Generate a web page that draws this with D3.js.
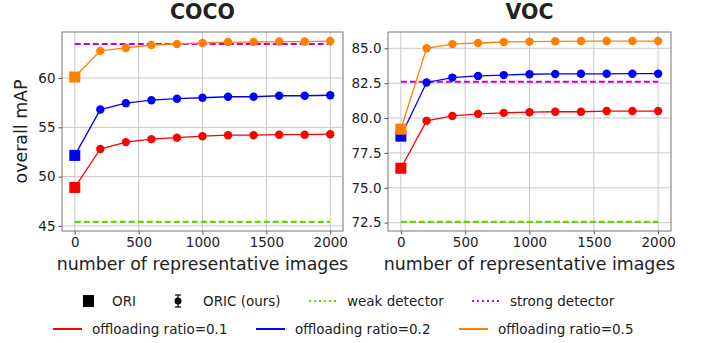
<!DOCTYPE html>
<html>
<head>
<meta charset="utf-8">
<script src="https://cdn.jsdelivr.net/npm/d3@7"></script>
<style>
  body { margin: 0; background: #fff; }
  text { font-family: "DejaVu Sans", sans-serif; fill: #222; }
</style>
</head>
<body>
<div id="chart"></div>
<script>
// x positions (number of representative images)
var imageCounts = [0, 200, 400, 600, 800, 1000, 1200, 1400, 1600, 1800, 2000];
var xTicks = [0, 500, 1000, 1500, 2000];

var ratios = ["0.1", "0.2", "0.5"];
var ratioColors = ["#ff0000", "#0000ff", "#ff8000"];

// COCO
var cocoOri = [48.9, 52.15, 60.1];
var cocoOric01 = [52.8, 53.5, 53.8, 53.95, 54.1, 54.2, 54.2, 54.25, 54.25, 54.3];
var cocoOric02 = [56.8, 57.45, 57.75, 57.9, 58.0, 58.1, 58.1, 58.2, 58.2, 58.25];
var cocoOric05 = [62.75, 63.05, 63.35, 63.45, 63.55, 63.65, 63.65, 63.7, 63.7, 63.75];
var cocoWeak = 45.4, cocoStrong = 63.45;
var cocoTicks = [45, 50, 55, 60];

// VOC
var vocOri = [76.4, 78.7, 79.2];
var vocOric01 = [79.8, 80.15, 80.3, 80.37, 80.42, 80.45, 80.45, 80.5, 80.5, 80.5];
var vocOric02 = [82.55, 82.9, 83.02, 83.08, 83.14, 83.16, 83.17, 83.17, 83.18, 83.18];
var vocOric05 = [85.0, 85.3, 85.38, 85.45, 85.48, 85.5, 85.52, 85.52, 85.52, 85.52];
var vocWeak = 72.55, vocStrong = 82.6;
var vocTicks = [72.5, 75.0, 77.5, 80.0, 82.5, 85.0];

var weakColor = "#66d400", strongColor = "#cc00cc";

var svg = d3.select("#chart").append("svg")
    .attr("width", 704)
    .attr("height", 343);

var panelTop = 32, panelBottom = 231;

function drawPanel(opts) {
    var ori = opts.ori, oric = opts.oric;
    var allVals = ori.concat(oric[0], oric[1], oric[2], [opts.weak, opts.strong]);
    var ext = d3.extent(allVals), pad = (ext[1] - ext[0]) * 0.05;

    var x = d3.scaleLinear().domain([-100, 2100]).range([opts.left, opts.right]);
    var y = d3.scaleLinear().domain([ext[0] - pad, ext[1] + pad]).range([panelBottom, panelTop]);

    var g = svg.append("g");

    // grid
    g.selectAll("line.gx").data(xTicks).enter().append("line")
        .attr("x1", d => x(d)).attr("x2", d => x(d))
        .attr("y1", panelTop).attr("y2", panelBottom)
        .attr("stroke", "#c8c8c8").attr("stroke-width", 1);
    g.selectAll("line.gy").data(opts.ticks).enter().append("line")
        .attr("y1", d => y(d)).attr("y2", d => y(d))
        .attr("x1", opts.left).attr("x2", opts.right)
        .attr("stroke", "#c8c8c8").attr("stroke-width", 1);

    // axes
    var xAxis = g.append("g")
        .attr("transform", "translate(0," + panelBottom + ")")
        .call(d3.axisBottom(x).tickValues(xTicks).tickSize(3.5).tickPadding(3)
            .tickFormat(d3.format("d")));
    var yAxis = g.append("g")
        .attr("transform", "translate(" + opts.left + ",0)")
        .call(d3.axisLeft(y).tickValues(opts.ticks).tickSize(3.5).tickPadding(3)
            .tickFormat(opts.fmt));
    [xAxis, yAxis].forEach(function(a) {
        a.select(".domain").remove();
        a.selectAll(".tick line").attr("stroke", "#555");
        a.selectAll(".tick text").style("font-size", "13.5px")
            .style("font-family", "DejaVu Sans").attr("fill", "#222");
    });

    g.append("rect")
        .attr("x", opts.left).attr("y", panelTop)
        .attr("width", opts.right - opts.left).attr("height", panelBottom - panelTop)
        .attr("fill", "none").attr("stroke", "#777").attr("stroke-width", 1);

    // detector reference lines
    [[opts.weak, weakColor], [opts.strong, strongColor]].forEach(function(r) {
        g.append("line")
            .attr("x1", x(0)).attr("x2", x(2000))
            .attr("y1", y(r[0])).attr("y2", y(r[0]))
            .attr("stroke", r[1]).attr("stroke-width", 2.2)
            .attr("stroke-dasharray", "6,3");
    });

    // series
    var line = d3.line().x(d => x(d[0])).y(d => y(d[1]));
    ratios.forEach(function(r, i) {
        var pts = [[0, ori[i]]].concat(oric[i].map((v, j) => [imageCounts[j + 1], v]));
        g.append("path").datum(pts)
            .attr("d", line)
            .attr("fill", "none")
            .attr("stroke", ratioColors[i])
            .attr("stroke-width", 1.3);
        g.selectAll(null).data(pts.slice(1)).enter().append("circle")
            .attr("cx", d => x(d[0])).attr("cy", d => y(d[1]))
            .attr("r", 4.2)
            .attr("fill", ratioColors[i]);
        g.append("rect")
            .attr("x", x(0) - 5.5).attr("y", y(ori[i]) - 5.5)
            .attr("width", 11).attr("height", 11)
            .attr("fill", ratioColors[i]);
    });

    // title
    g.append("text")
        .attr("x", (opts.left + opts.right) / 2).attr("y", 19)
        .attr("text-anchor", "middle")
        .style("font-size", "20.5px").style("font-weight", "bold")
        .attr("fill", "#333")
        .text(opts.title);

    g.append("text")
        .attr("x", (opts.left + opts.right) / 2).attr("y", 270)
        .attr("text-anchor", "middle")
        .style("font-size", "17.4px")
        .attr("fill", "#333")
        .text("number of representative images");
}

drawPanel({
    title: "COCO", left: 62, right: 343,
    ori: cocoOri, oric: [cocoOric01, cocoOric02, cocoOric05],
    weak: cocoWeak, strong: cocoStrong, ticks: cocoTicks, fmt: d3.format("d")
});
drawPanel({
    title: "VOC", left: 388, right: 671,
    ori: vocOri, oric: [vocOric01, vocOric02, vocOric05],
    weak: vocWeak, strong: vocStrong, ticks: vocTicks, fmt: d3.format(".1f")
});

svg.append("text")
    .attr("transform", "translate(27,131.5) rotate(-90)")
    .attr("text-anchor", "middle")
    .style("font-size", "17.4px")
    .attr("fill", "#333")
    .text("overall mAP");

// legend
var leg = svg.append("g").style("font-size", "13.5px");
var row1 = 301, row2 = 329;

leg.append("rect").attr("x", 83).attr("y", row1 - 6).attr("width", 11).attr("height", 12).attr("fill", "#000");
leg.append("text").attr("x", 112).attr("y", row1 + 5).text("ORI");

leg.append("line").attr("x1", 178).attr("x2", 178).attr("y1", row1 - 6).attr("y2", row1 + 6)
    .attr("stroke", "#000").attr("stroke-width", 1.2);
[row1 - 6, row1 + 6].forEach(function(yy) {
    leg.append("line").attr("x1", 175).attr("x2", 181).attr("y1", yy).attr("y2", yy)
        .attr("stroke", "#000").attr("stroke-width", 1.2);
});
leg.append("circle").attr("cx", 178).attr("cy", row1).attr("r", 3.5).attr("fill", "#000");
leg.append("text").attr("x", 203).attr("y", row1 + 5).text("ORIC (ours)");

[[309, 347, weakColor, "weak detector"], [472, 510, strongColor, "strong detector"]].forEach(function(d) {
    leg.append("line").attr("x1", d[0]).attr("x2", d[0] + 27).attr("y1", row1).attr("y2", row1)
        .attr("stroke", d[2]).attr("stroke-width", 2).attr("stroke-dasharray", "2,3");
    leg.append("text").attr("x", d[1]).attr("y", row1 + 5).text(d[3]);
});

var row2X = [53, 256, 459];
ratios.forEach(function(r, i) {
    leg.append("line").attr("x1", row2X[i]).attr("x2", row2X[i] + 29).attr("y1", row2).attr("y2", row2)
        .attr("stroke", ratioColors[i]).attr("stroke-width", 2);
    leg.append("text").attr("x", row2X[i] + 39).attr("y", row2 + 5).text("offloading ratio=" + r);
});
</script>
</body>
</html>
